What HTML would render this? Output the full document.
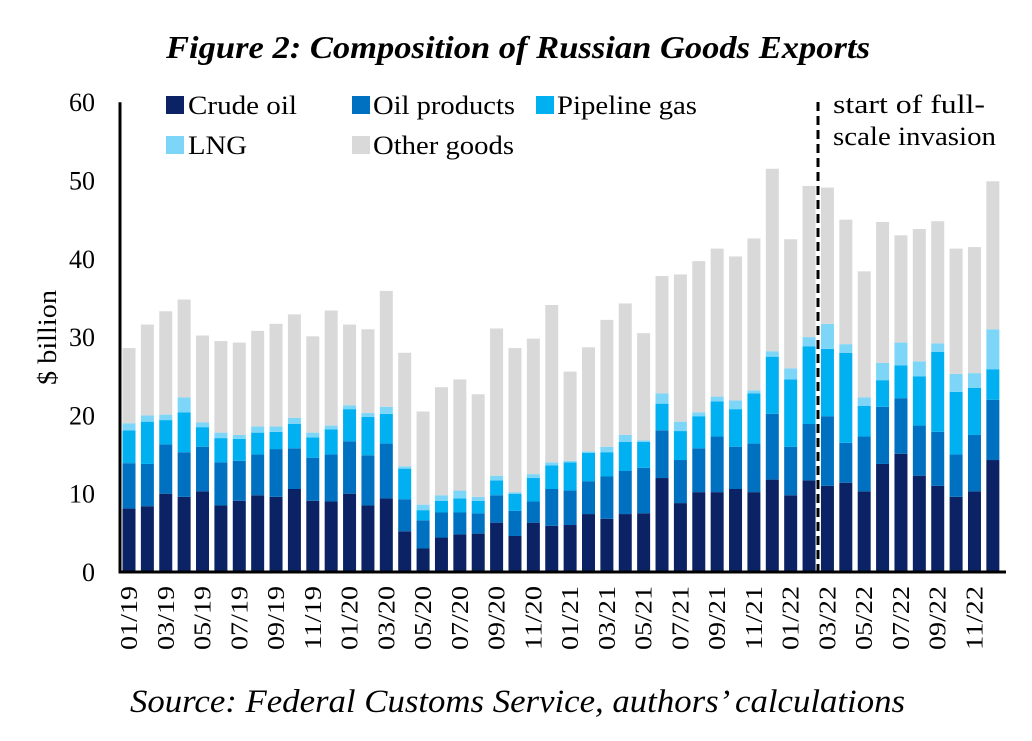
<!DOCTYPE html>
<html><head><meta charset="utf-8"><style>
body{margin:0;background:#fff;width:1032px;height:736px;overflow:hidden}
svg text{font-family:"Liberation Serif",serif;fill:#000}
</style></head><body>
<svg id="chart" width="1032" height="736">
<text x="166" y="58" font-size="32" font-weight="bold" font-style="italic" textLength="704" lengthAdjust="spacingAndGlyphs">Figure 2: Composition of Russian Goods Exports</text>
<text x="130" y="712" font-size="33" font-style="italic" textLength="775" lengthAdjust="spacingAndGlyphs">Source: Federal Customs Service, authors’ calculations</text>
<text transform="translate(56,385) rotate(-90)" font-size="26" textLength="95" lengthAdjust="spacingAndGlyphs">$ billion</text>
<g id="bars"></g>
<g id="axes"></g>
<line x1="818" y1="102" x2="818" y2="572" stroke="#000" stroke-width="3" stroke-dasharray="9,5"/>
<text x="833" y="113" font-size="26" textLength="152" lengthAdjust="spacingAndGlyphs">start of full-</text>
<text x="833" y="145" font-size="26" textLength="163" lengthAdjust="spacingAndGlyphs">scale invasion</text>
<g font-size="26">
<rect x="166" y="96" width="18" height="18" fill="#0b2265"/>
<text x="188" y="114" textLength="109" lengthAdjust="spacingAndGlyphs">Crude oil</text>
<rect x="352" y="96" width="18" height="18" fill="#0070c0"/>
<text x="373" y="114" textLength="142" lengthAdjust="spacingAndGlyphs">Oil products</text>
<rect x="536" y="96" width="18" height="18" fill="#00b0f0"/>
<text x="557" y="114" textLength="140" lengthAdjust="spacingAndGlyphs">Pipeline gas</text>
<rect x="166" y="136" width="18" height="18" fill="#7dd6f8"/>
<text x="188" y="154" textLength="59" lengthAdjust="spacingAndGlyphs">LNG</text>
<rect x="352" y="136" width="18" height="18" fill="#d9d9d9"/>
<text x="373" y="154" textLength="141" lengthAdjust="spacingAndGlyphs">Other goods</text>
</g>
</svg>
<script>
const crude=[8.1,8.4,10.0,9.6,10.3,8.5,9.1,9.8,9.6,10.6,9.1,9.0,10.0,8.5,9.4,5.2,3.0,4.4,4.8,4.9,6.3,4.6,6.3,5.9,6.0,7.4,6.8,7.4,7.5,12.0,8.8,10.2,10.2,10.6,10.2,11.8,9.8,11.7,11.0,11.4,10.3,13.8,15.1,12.3,11.0,9.6,10.3,14.3];
const oilProducts=[5.8,5.4,6.3,5.7,5.7,5.5,5.1,5.2,6.1,5.2,5.5,6.0,6.7,6.4,7.0,4.1,3.6,3.2,2.8,2.6,3.5,3.2,2.7,4.7,4.4,4.2,5.4,5.5,5.8,6.1,5.5,5.6,7.1,5.4,6.2,8.4,6.2,7.2,8.9,5.1,7.0,7.3,7.1,6.4,6.9,5.4,7.2,7.7];
const pipelineGas=[4.2,5.4,3.1,5.1,2.5,3.1,2.8,2.8,2.2,3.1,2.6,3.2,4.1,4.9,3.8,3.9,1.3,1.5,1.8,1.6,1.9,2.2,3.0,3.0,3.6,3.6,3.1,3.7,3.3,3.4,3.7,4.1,4.5,4.8,6.4,7.3,8.6,9.9,8.6,11.5,3.9,3.4,4.2,6.3,10.2,8.0,6.0,3.9];
const lng=[0.9,0.8,0.7,1.9,0.6,0.7,0.5,0.8,0.7,0.8,0.6,0.5,0.5,0.5,0.9,0.3,0.7,0.7,1.0,0.5,0.6,0.2,0.5,0.4,0.2,0.2,0.7,0.9,0.2,1.3,1.2,0.5,0.6,1.1,0.4,0.7,1.4,1.2,3.2,1.1,1.1,2.2,2.9,1.9,1.1,2.3,1.9,5.1];
const otherGoods=[9.6,11.6,13.2,12.5,11.1,11.7,11.8,12.2,13.1,13.2,12.3,14.7,10.3,10.7,14.8,14.5,11.9,13.8,14.2,13.1,18.8,18.4,17.3,20.1,11.4,13.3,16.2,16.8,13.7,15.0,18.8,19.3,18.9,18.4,19.4,23.3,16.5,19.3,17.4,15.9,16.1,18.0,13.7,16.9,15.6,16.0,16.1,18.9];
const yTicks=[0,10,20,30,40,50,60];
const months=[];
for(let y=19;y<=22;y++)for(let m=1;m<=12;m++)months.push(String(m).padStart(2,'0')+'/'+y);

const NS='http://www.w3.org/2000/svg';
const y0=572,pxPer=7.83,x0=129,step=18.38,bw=13;
const yS=v=>y0-v*pxPer;
const xS=i=>x0+i*step;
const series=[[crude,'#0b2265','crude-oil'],[oilProducts,'#0070c0','oil-products'],[pipelineGas,'#00b0f0','pipeline-gas'],[lng,'#7dd6f8','lng'],[otherGoods,'#d9d9d9','other-goods']];
const gB=document.getElementById('bars');
months.forEach((mo,i)=>{
  let cum=0;
  series.forEach(([arr,col,nm])=>{
    const v=arr[i];
    const r=document.createElementNS(NS,'rect');
    r.setAttribute('x',xS(i)-bw/2);
    r.setAttribute('y',yS(cum+v));
    r.setAttribute('width',bw);
    r.setAttribute('height',v*pxPer);
    r.setAttribute('fill',col);
    
    
    gB.appendChild(r);
    cum+=v;
  });
});
const gA=document.getElementById('axes');
function ln(x1,y1,x2,y2,name){const l=document.createElementNS(NS,'line');l.setAttribute('x1',x1);l.setAttribute('y1',y1);l.setAttribute('x2',x2);l.setAttribute('y2',y2);l.setAttribute('stroke','#000');l.setAttribute('stroke-width','3');


gA.appendChild(l);}
ln(120,yS(60),120,y0+1.5,'y-axis-line');
ln(118.5,y0,1006,y0,'x-axis-line');
yTicks.forEach(t=>{
  const tx=document.createElementNS(NS,'text');
  tx.setAttribute('x',95);tx.setAttribute('y',yS(t)+9);tx.setAttribute('text-anchor','end');tx.setAttribute('font-size','26');
  tx.textContent=t;
  
  
  gA.appendChild(tx);
});
months.forEach((mo,i)=>{
  if(i%2)return;
  const tx=document.createElementNS(NS,'text');
  tx.setAttribute('transform','translate('+(xS(i)+8)+',650) rotate(-90)');
  tx.setAttribute('font-size','24');
  tx.setAttribute('textLength','64');
  tx.setAttribute('lengthAdjust','spacingAndGlyphs');
  tx.textContent=mo;
  
  
  gA.appendChild(tx);
});
</script>
</body></html>
